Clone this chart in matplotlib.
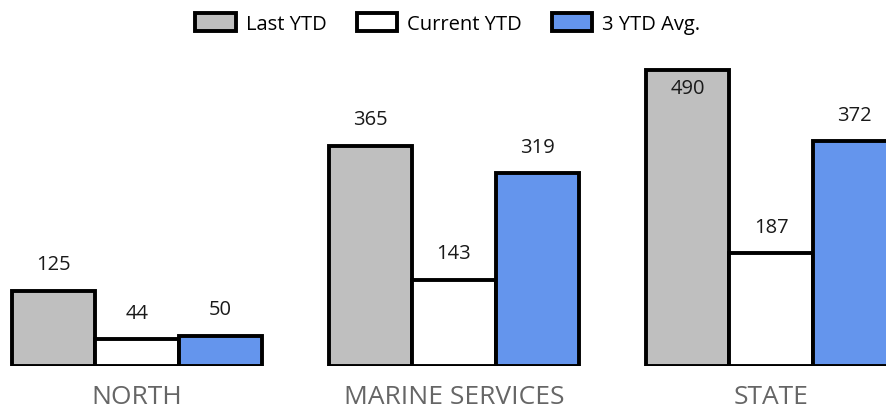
import numpy as np
import matplotlib
matplotlib.use("Agg")
import matplotlib.pyplot as plt

plt.rcParams['font.family'] = ['Open Sans', 'DejaVu Sans']

categories = ['NORTH', 'MARINE SERVICES', 'STATE']
series_names = ['Last YTD', 'Current YTD', '3 YTD Avg.']
last_ytd = [125, 365, 490]
current_ytd = [44, 143, 187]
avg_3ytd = [50, 319, 372]
colors = ['#bfbfbf', '#ffffff', '#6495ed']

W, H = 887, 410
fig = plt.figure(figsize=(W / 100, H / 100), dpi=100)
# axes: baseline at y=367px, top at y=50px, full width
ax = fig.add_axes([0, (H - 367) / H, 1, (367 - 50) / H])

x = np.arange(len(categories))
bw = 0.263
ymax = 525
for i, (vals, col, name) in enumerate(zip([last_ytd, current_ytd, avg_3ytd], colors, series_names)):
    pos = x + (i - 1) * bw
    ax.bar(pos, vals, bw, color=col, edgecolor='black', linewidth=2.8, label=name)
    for p, v in zip(pos, vals):
        if v > 440:
            ax.text(p, v - 30, str(v), ha='center', va='center', fontsize=14.5, color='#1a1a1a')
        else:
            ax.text(p, v + 44, str(v), ha='center', va='center', fontsize=14.5, color='#1a1a1a')

ax.set_xlim(-137 / 317, (W - 137) / 317)
ax.set_ylim(0, ymax)
ax.set_xticks(x)
ax.set_xticklabels(categories, fontsize=19, color='#666666')
ax.tick_params(axis='x', length=0, pad=13)
ax.set_yticks([])
for s in ax.spines.values():
    s.set_visible(False)

fig.legend(loc='upper center', bbox_to_anchor=(0.505, 1.01), ncol=3, frameon=False,
           fontsize=14.5, handlelength=2.0, handleheight=1.0, columnspacing=1.5,
           handletextpad=0.5)

fig.savefig('out.png', dpi=100)
